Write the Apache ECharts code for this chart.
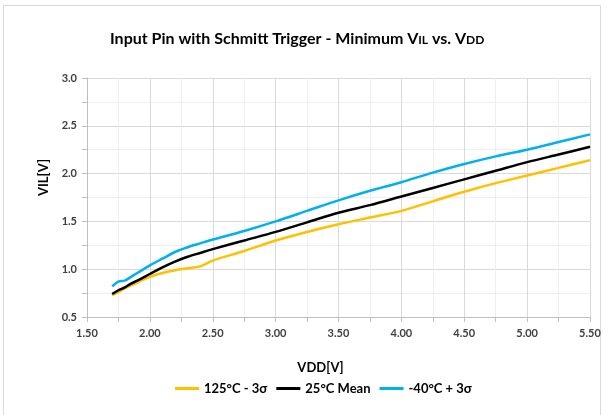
<!DOCTYPE html>
<html><head><meta charset="utf-8">
<script src="https://cdn.jsdelivr.net/npm/echarts@6/dist/echarts.min.js"></script>
<style>html,body{margin:0;padding:0;background:#fff}#c{width:611px;height:415px}</style>
</head><body><div id="c"></div>
<script>
const vdd = [1.70,1.75,1.80,1.85,1.90,2.00,2.10,2.20,2.30,2.40,2.50,2.75,3.00,3.25,3.50,3.75,4.00,4.25,4.50,4.75,5.00,5.25,5.50];
const hot = [0.73,0.76,0.80,0.83,0.86,0.92,0.96,0.99,1.01,1.03,1.09,1.19,1.30,1.39,1.47,1.54,1.61,1.71,1.81,1.90,1.98,2.06,2.14];
const mean = [0.74,0.78,0.81,0.85,0.88,0.95,1.02,1.08,1.13,1.17,1.21,1.30,1.39,1.49,1.59,1.67,1.76,1.85,1.94,2.03,2.12,2.20,2.28];
const cold = [0.82,0.87,0.88,0.92,0.96,1.04,1.11,1.18,1.23,1.27,1.31,1.40,1.50,1.61,1.72,1.82,1.91,2.01,2.10,2.18,2.25,2.33,2.41];
const seriesNames = ['125°C - 3σ','25°C Mean','-40°C + 3σ'];
const seriesData = [hot, mean, cold];
const colors = ['#FFC000','#000000','#00B0F0'];

const FONT = 'Lato';
const chart = echarts.init(document.getElementById('c'), null, {renderer:'canvas'});
chart.setOption({
  animation:false,
  backgroundColor:'#fff',
  graphic:[{type:'rect', shape:{x:3.5,y:5.5,width:597,height:420}, style:{fill:'none',stroke:'#d9d9d9',lineWidth:1}, silent:true}],
  title:{
    text:'Input Pin with Schmitt Trigger - Minimum V{s|IL} vs. V{s|DD}',
    left:110, top:31, padding:[0,0,0,0],
    textStyle:{fontFamily:FONT,fontWeight:'bold',fontSize:16,color:'#000',
      rich:{s:{fontFamily:FONT,fontWeight:'bold',fontSize:12,color:'#000',padding:[2,0,0,0]}}}
  },
  legend:{
    data:seriesNames, top:382, left:175, itemWidth:24, itemHeight:3, itemGap:9,
    icon:'rect', padding:0,
    textStyle:{fontFamily:FONT,fontWeight:'bold',fontSize:13,color:'#000'}
  },
  grid:{left:87,right:21,top:78,bottom:98},
  xAxis:{
    type:'value', min:1.5, max:5.5, interval:0.5,
    name:'VDD[V]', nameLocation:'middle', nameGap:44,
    nameTextStyle:{fontFamily:FONT,fontWeight:'bold',fontSize:13,color:'#000',padding:[0,36,0,0]},
    axisLine:{show:true,lineStyle:{color:'#bfbfbf',width:1}},
    axisTick:{show:true,length:5,lineStyle:{color:'#bfbfbf'}},
    minorTick:{show:true,splitNumber:2,length:5,lineStyle:{color:'#bfbfbf'}},
    axisLabel:{formatter:v=>v.toFixed(2),fontFamily:FONT,fontWeight:'bold',fontSize:11,color:'#404040',margin:11},
    splitLine:{show:true,lineStyle:{color:'#d9d9d9',width:1}},
    minorSplitLine:{show:true,lineStyle:{color:'#efefef',width:1}}
  },
  yAxis:{
    type:'value', min:0.5, max:3.0, interval:0.5,
    name:'VIL[V]', nameLocation:'middle', nameGap:36,
    nameTextStyle:{fontFamily:FONT,fontWeight:'bold',fontSize:13,color:'#000',padding:[0,0,0,40]},
    axisLine:{show:true,lineStyle:{color:'#bfbfbf',width:1}},
    axisTick:{show:true,length:5,lineStyle:{color:'#bfbfbf'}},
    minorTick:{show:true,splitNumber:2,length:5,lineStyle:{color:'#bfbfbf'}},
    axisLabel:{formatter:v=>v.toFixed(1),fontFamily:FONT,fontWeight:'bold',fontSize:11,color:'#404040',margin:10},
    splitLine:{show:true,lineStyle:{color:'#d9d9d9',width:1}},
    minorSplitLine:{show:true,lineStyle:{color:'#efefef',width:1}}
  },
  series: seriesNames.map((n,i)=>({
    name:n, type:'line', smooth:0.3, showSymbol:false, symbol:'none',
    data: vdd.map((x,k)=>[x, seriesData[i][k]]),
    lineStyle:{color:colors[i],width:2.5}, itemStyle:{color:colors[i]}
  }))
});
</script></body></html>
